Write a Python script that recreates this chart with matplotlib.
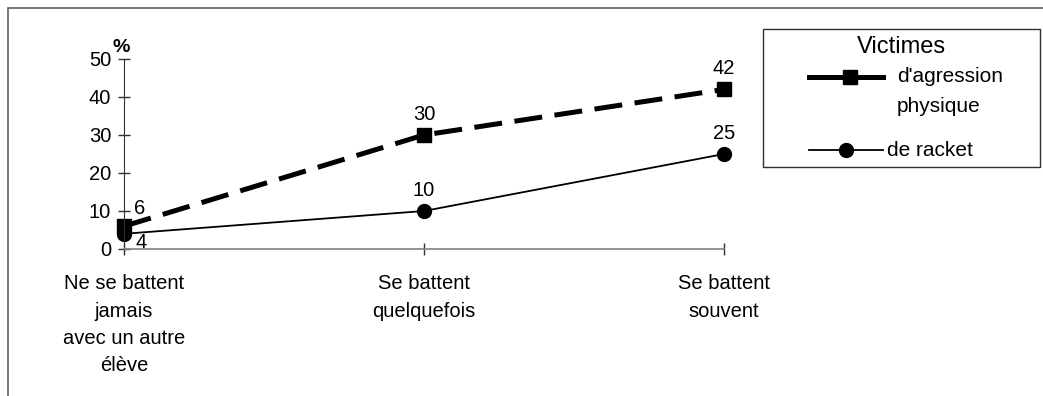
import matplotlib.pyplot as plt
from matplotlib.patches import Rectangle
from matplotlib.lines import Line2D

plt.rcParams['font.family'] = ['Liberation Sans', 'DejaVu Sans']

categories = ['Ne se battent\njamais\navec un autre\nélève',
              'Se battent\nquelquefois',
              'Se battent\nsouvent']
agression = [6, 30, 42]
racket = [4, 10, 25]
yticks = [0, 10, 20, 30, 40, 50]
legend_title = 'Victimes'
legend_labels = ["d'agression\nphysique", 'de racket']

W, H = 1043, 396
fig = plt.figure(figsize=(W / 100, H / 100), dpi=100)
ax = fig.add_axes([124 / W, 1 - 249 / H, 600 / W, 190 / H])


def fx(px):
    return px / W


def fy(py):
    return 1 - py / H


# outer frame of the figure, right/bottom edges fall off the canvas
fig.patches.append(Rectangle((fx(8), -0.1), 1.2, fy(8) + 0.1,
                             transform=fig.transFigure, fill=False,
                             edgecolor='#606060', linewidth=1.2))

x = list(range(len(categories)))
agr_style = dict(color='black', linewidth=3.6, marker='s', markersize=9.5)
rack_style = dict(color='black', linewidth=1.3, marker='o', markersize=10)
ax.plot(x, agression, dashes=(5.6, 2.5), clip_on=False, **agr_style)
ax.plot(x, racket, clip_on=False, **rack_style)

ax.set_xlim(0, 2)
ax.set_ylim(0, 50)
ax.set_yticks(yticks)
ax.set_xticks(x)
ax.set_xticklabels(categories, fontsize=15, linespacing=1.55)
ax.tick_params(axis='both', direction='inout', length=8.6, width=1,
               labelsize=14.5, color='#303030')
ax.tick_params(axis='y', pad=5)
ax.tick_params(axis='x', pad=14)
for s in ['top', 'right']:
    ax.spines[s].set_visible(False)
ax.spines['left'].set_color('#303030')
ax.spines['bottom'].set_color('#808080')
ax.spines['bottom'].set_linewidth(1.2)

fig.text(fx(121), fy(47), '%', fontsize=14, fontweight='bold',
         ha='center', va='center')

# value labels
ax.annotate(str(agression[0]), (0, agression[0]), xytext=(11, 13),
            textcoords='offset points', fontsize=14.5, va='center', ha='center')
ax.annotate(str(racket[0]), (0, racket[0]), xytext=(12, -6),
            textcoords='offset points', fontsize=14.5, va='center', ha='center')
for i in (1, 2):
    ax.annotate(str(agression[i]), (i, agression[i]), xytext=(0, 15),
                textcoords='offset points', fontsize=14.5, ha='center', va='center')
    ax.annotate(str(racket[i]), (i, racket[i]), xytext=(0, 15),
                textcoords='offset points', fontsize=14.5, ha='center', va='center')

# legend box
fig.patches.append(Rectangle((fx(763), fy(167)), fx(1040) - fx(763), fy(29) - fy(167),
                             transform=fig.transFigure, fill=False,
                             edgecolor='#303030', linewidth=1))
fig.text(fx(901), fy(47), legend_title, fontsize=17, ha='center', va='center')
fig.add_artist(Line2D([fx(809), fx(883)], [fy(77), fy(77)], color='black',
                      linewidth=3.6, transform=fig.transFigure))
fig.add_artist(Line2D([fx(850)], [fy(77)], transform=fig.transFigure,
                      linestyle='none', marker='s', markersize=9.5, color='black'))
fig.text(fx(897), fy(77), legend_labels[0].split('\n')[0], fontsize=15, va='center')
fig.text(fx(897), fy(106), legend_labels[0].split('\n')[1], fontsize=15, va='center')
fig.add_artist(Line2D([fx(809), fx(883)], [fy(150), fy(150)], color='black',
                      linewidth=1.3, transform=fig.transFigure))
fig.add_artist(Line2D([fx(846)], [fy(150)], transform=fig.transFigure,
                      linestyle='none', marker='o', markersize=10, color='black'))
fig.text(fx(887), fy(150), legend_labels[1], fontsize=15, va='center')

fig.savefig('out.png', dpi=100)
